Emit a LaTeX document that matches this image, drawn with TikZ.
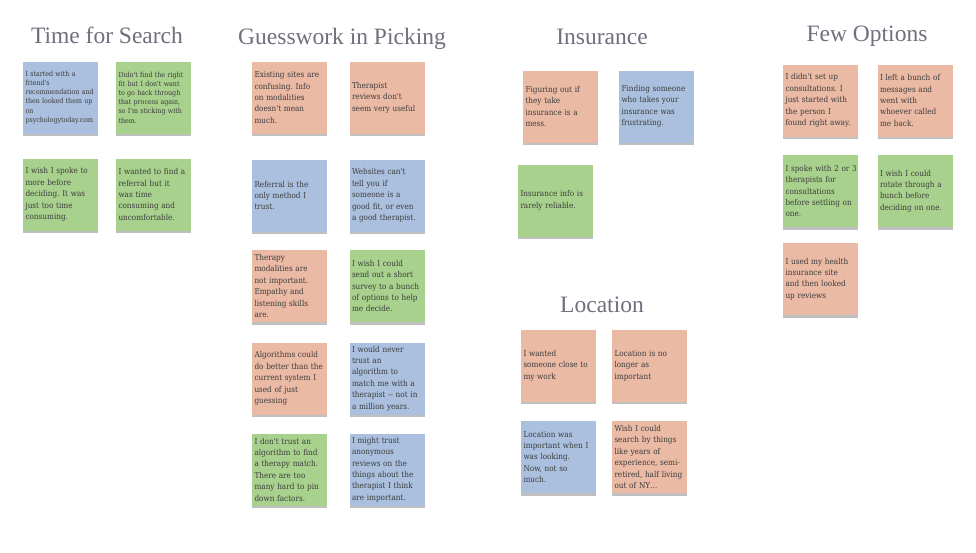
\documentclass[tikz,border=0pt]{standalone}
\usepackage{fontspec}
\setmainfont{Liberation Serif}
\newfontfamily\notefont{DejaVu Serif Condensed}
\usetikzlibrary{shadows}
\definecolor{NoteBlue}{HTML}{AAC0DE}
\definecolor{NoteSalmon}{HTML}{EABAA5}
\definecolor{NoteGreen}{HTML}{A9D18E}
\definecolor{NoteInk}{HTML}{3C3C3C}
\definecolor{TitleGray}{HTML}{6F6F7D}

\begin{document}
\begin{tikzpicture}[x=1pt,y=-1pt,
  note/.style={minimum height=72pt,text width=70pt,inner xsep=2.5pt,inner ysep=3pt,
    align=left,text=NoteInk,font=\notefont\frenchspacing\fontsize{8.1}{11.4}\selectfont,
    drop shadow={shadow xshift=0pt,shadow yshift=-2.5pt,opacity=.35,fill=black!70}},
  small/.style={font=\notefont\frenchspacing\fontsize{7}{9.2}\selectfont},
  blue/.style={note,fill=NoteBlue},
  salmon/.style={note,fill=NoteSalmon},
  green/.style={note,fill=NoteGreen},
  title/.style={anchor=base,text=TitleGray,font=\fontsize{23.5}{26}\selectfont}]
  \useasboundingbox[fill=white] (0,0) rectangle (976,552);

  % time for search
  \node[title] (searchT) at (107,43) {Time for Search};
  \node[blue,small] (search1) at (60.5,97.5) {I started with a\\ friend's\\ recommendation and\\ then looked them up\\ on\\ psychologytoday.com};
  \node[green,small] (search2) at (153.5,97.5) {Didn't find the right\\ fit but I don't want\\ to go back through\\ that process again,\\ so I'm sticking with\\ them.};
  \node[green] (search3) at (60.5,194.5) {I wish I spoke to\\ more before\\ deciding. It was\\ just too time\\ consuming.};
  \node[green] (search4) at (153.5,194.5) {I wanted to find a\\ referral but it\\ was time\\ consuming and\\ uncomfortable.};

  % guesswork in picking
  \node[title] (guessT) at (342,44) {Guesswork in Picking};
  \node[salmon] (guess1) at (289.5,97.5) {Existing sites are\\ confusing. Info\\ on modalities\\ doesn't mean\\ much.};
  \node[salmon] (guess2) at (387,97.5) {Therapist\\ reviews don't\\ seem very useful};
  \node[blue] (guess3) at (289.5,195.5) {Referral is the\\ only method I\\ trust.};
  \node[blue] (guess4) at (387,195.5) {Websites can't\\ tell you if\\ someone is a\\ good fit, or even\\ a good therapist.};
  \node[salmon] (guess5) at (289.5,286) {Therapy\\ modalities are\\ not important.\\ Empathy and\\ listening skills\\ are.};
  \node[green] (guess6) at (387,286) {I wish I could\\ send out a short\\ survey to a bunch\\ of options to help\\ me decide.};
  \node[salmon] (guess7) at (289.5,378.5) {Algorithms could\\ do better than the\\ current system I\\ used of just\\ guessing};
  \node[blue] (guess8) at (387,378.5) {I would never\\ trust an\\ algorithm to\\ match me with a\\ therapist -- not in\\ a million years.};
  \node[green] (guess9) at (289.5,469.5) {I don't trust an\\ algorithm to find\\ a therapy match.\\ There are too\\ many hard to pin\\ down factors.};
  \node[blue] (guess10) at (387,469.5) {I might trust\\ anonymous\\ reviews on the\\ things about the\\ therapist I think\\ are important.};

  % insurance
  \node[title] (insT) at (602,44) {Insurance};
  \node[salmon] (ins1) at (560.5,106.5) {Figuring out if\\ they take\\ insurance is a\\ mess.};
  \node[blue] (ins2) at (656.5,106.5) {Finding someone\\ who takes your\\ insurance was\\ frustrating.};
  \node[green] (ins3) at (555.5,200.5) {Insurance info is\\ rarely reliable.};

  % location
  \node[title] (locT) at (602,312) {Location};
  \node[salmon] (loc1) at (558.5,365.5) {I wanted\\ someone close to\\ my work};
  \node[salmon] (loc2) at (649.5,365.5) {Location is no\\ longer as\\ important};
  \node[blue] (loc3) at (558.5,457) {Location was\\ important when I\\ was looking.\\ Now, not so\\ much.};
  \node[salmon] (loc4) at (649.5,457) {Wish I could\\ search by things\\ like years of\\ experience, semi-\\ retired, half living\\ out of NY\ldots};

  % few options
  \node[title] (fewT) at (867,41) {Few Options};
  \node[salmon] (few1) at (820.5,100.5) {I didn't set up\\ consultations. I\\ just started with\\ the person I\\ found right away.};
  \node[salmon] (few2) at (915,100.5) {I left a bunch of\\ messages and\\ went with\\ whoever called\\ me back.};
  \node[green] (few3) at (820.5,191) {\mbox{I spoke with 2 or 3}\\ therapists for\\ consultations\\ before settling on\\ one.};
  \node[green] (few4) at (915,191) {I wish I could\\ rotate through a\\ bunch before\\ deciding on one.};
  \node[salmon] (few5) at (820.5,279) {I used my health\\ insurance site\\ and then looked\\ up reviews};
\end{tikzpicture}
\end{document}
